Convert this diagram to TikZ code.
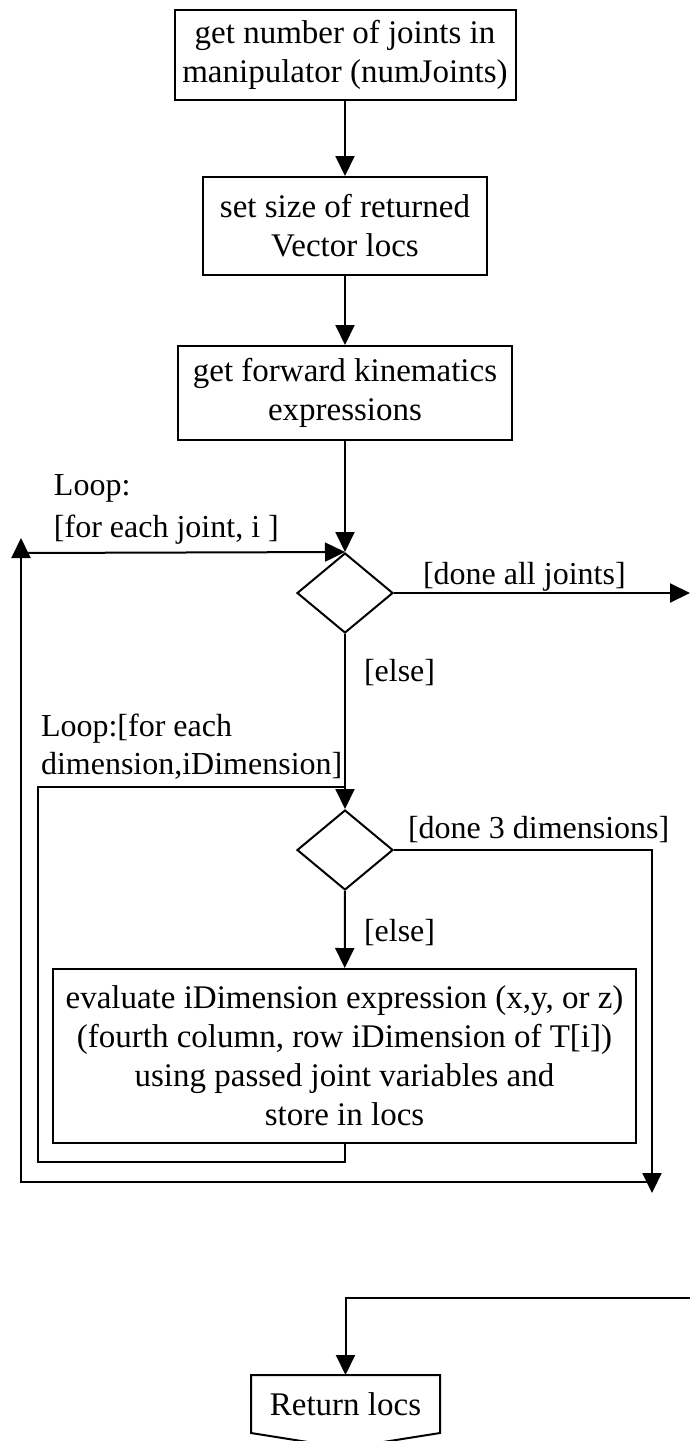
\documentclass[tikz,border=0pt]{standalone}
\usepackage{fontspec}
\setmainfont{Liberation Serif}
\usetikzlibrary{shapes.geometric,arrows.meta,positioning}

\begin{document}
\begin{tikzpicture}[x=0.5pt,y=-0.5pt,
    font=\fontsize{16}{19}\selectfont,
    line width=1pt,
    proc/.style={draw, rectangle, align=center, inner sep=0pt, font=\fontsize{16.5}{19.5}\selectfont},
    decide/.style={draw, diamond, minimum width=48pt, minimum height=40pt, inner sep=0pt},
    lbl/.style={anchor=west, align=left, inner sep=0pt},
    arr/.style={-{Triangle[length=10pt,width=9.5pt]}}]
    \useasboundingbox (0,0) rectangle (690,1441);

    % steps
    \node[proc, minimum width=170.5pt, minimum height=45pt] (nj) at (345,55) {get number of joints in\\manipulator (numJoints)};
    \node[proc, minimum width=142pt, minimum height=49pt] (sz) at (345,226) {set size of returned\\Vector locs};
    \node[proc, minimum width=167pt, minimum height=47pt] (fk) at (345,393) {get forward kinematics\\expressions};
    \node[decide] (dj) at (345,593) {};
    \node[decide] (dd) at (345,850) {};
    \node[proc, minimum width=291.5pt, minimum height=87pt] (ev) at (344.5,1056) {evaluate iDimension expression (x,y, or z)\\(fourth column, row iDimension of T[i])\\using passed joint variables and\\store in locs};
    \node[minimum width=93.5pt, minimum height=28pt, inner sep=0pt, font=\fontsize{16.5}{19.5}\selectfont] (ret) at (345.5,1404) {Return locs};
    \draw (ret.south west) -- (ret.north west) -- (ret.north east) -- (ret.south east) -- ([yshift=-7.5pt]ret.south) -- cycle;

    % loop corners
    \coordinate (jin) at (21,553);
    \coordinate (jtop) at (21,538);
    \coordinate (jbl) at (21,1182);
    \coordinate (jbr) at (652,1182);
    \coordinate (jdone) at (690,593);
    \coordinate (dmerge) at (345,787);
    \coordinate (dbl) at (38,1162);
    \coordinate (ddone) at (652,1193);
    \coordinate (rin) at (690,1298);

    \draw[arr] (nj) -- (sz);
    \draw[arr] (sz) -- (fk);
    \draw[arr] (fk) -- (dj);
    \draw[arr] (jin) -- (dj.north);
    \draw[arr] (jbr) -- (jbl) -- (jtop);
    \draw[arr] (dj.east) -- (jdone);
    \draw[arr] (dj) -- (dd);
    \draw (ev.south) |- (dbl) |- (dmerge);
    \draw[arr] (dd.east) -| (ddone);
    \draw[arr] (dd) -- (ev);
    \draw[arr] (rin) -| (ret.north);

    % guards
    \node[lbl] (lpj) at (53,509) {Loop:\\[2pt]{}[for each joint, i ]};
    \node[lbl] (lbdone) at (422,577) {[done all joints]};
    \node[lbl] (lbelse1) at (363,673) {[else]};
    \node[lbl] (lpd) at (40,747) {Loop:[for each\\dimension,iDimension]};
    \node[lbl] (lbdd) at (407,830) {[done 3 dimensions]};
    \node[lbl] (lbelse2) at (363,933) {[else]};
\end{tikzpicture}
\end{document}
